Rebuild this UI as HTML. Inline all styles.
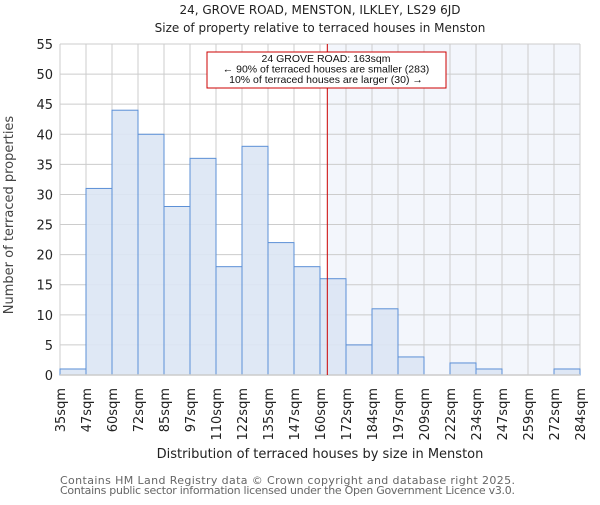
<!DOCTYPE html>
<html><head><meta charset="utf-8"><style>
body{margin:0;background:#fff}
svg{font-family:"DejaVu Sans","Liberation Sans",sans-serif}
</style></head><body>
<svg id="chart" width="600" height="500" xmlns="http://www.w3.org/2000/svg">
<text x="320" y="14" text-anchor="middle" font-size="12" fill="#222">24, GROVE ROAD, MENSTON, ILKLEY, LS29 6JD</text>
<text x="320" y="32" text-anchor="middle" font-size="12" fill="#222">Size of property relative to terraced houses in Menston</text>
<g id="plot"></g>
<text x="320" y="458" text-anchor="middle" font-size="13" fill="#222">Distribution of terraced houses by size in Menston</text>
<text transform="translate(13,215) rotate(-90)" text-anchor="middle" font-size="13" fill="#444">Number of terraced properties</text>
<text x="60" y="484" font-size="11" fill="#666" textLength="455">Contains HM Land Registry data © Crown copyright and database right 2025.</text>
<text x="60" y="494" font-size="11" fill="#666" textLength="455">Contains public sector information licensed under the Open Government Licence v3.0.</text>
</svg>
<script>
const binLabels=["35sqm","47sqm","60sqm","72sqm","85sqm","97sqm","110sqm","122sqm","135sqm","147sqm","160sqm","172sqm","184sqm","197sqm","209sqm","222sqm","234sqm","247sqm","259sqm","272sqm","284sqm"];
const counts=[1,31,44,40,28,36,18,38,22,18,16,5,11,3,0,2,1,0,0,1];
const yTicks=[0,5,10,15,20,25,30,35,40,45,50,55];
const subjectSize=163;
const minSize=35, maxSize=284;
const L=60,R=580,T=44,B=375,yMax=55;
const NS="http://www.w3.org/2000/svg";
const g=document.getElementById('plot');
const n=counts.length;
const xb=i=>L+(R-L)*i/n;
const y=v=>B-(B-T)*v/yMax;
const xs=s=>L+(R-L)*(s-minSize)/(maxSize-minSize);
function mk(tag,attrs,parent){const e=document.createElementNS(NS,tag);for(const k in attrs)e.setAttribute(k,attrs[k]);(parent||g).appendChild(e);return e;}
const bg=mk('rect',{x:L,y:T,width:R-L,height:B-T,fill:'#fff'});


const px=xs(subjectSize);
const sh=mk('rect',{x:px,y:T,width:R-px,height:B-T,fill:'#f3f6fc'});


yTicks.forEach(t=>{
 const l=mk('line',{x1:L,x2:R,y1:y(t),y2:y(t),stroke:'#ccc','stroke-width':1});
 
 
 const tx=mk('text',{x:L-7,y:y(t)+5,'text-anchor':'end','font-size':13,fill:'#222'});
 tx.textContent=t;
 
 
});
binLabels.forEach((lab,i)=>{
 const X=xb(i);
 const l=mk('line',{x1:X,x2:X,y1:T,y2:B,stroke:'#ccc','stroke-width':1});
 
 
 const tx=mk('text',{transform:`translate(${X+5},388) rotate(-90)`,'text-anchor':'end','font-size':13,fill:'#222'});
 tx.textContent=lab;
 
 
});
counts.forEach((c,i)=>{
 if(c<=0)return;
 const r=mk('rect',{x:xb(i),y:y(c),width:xb(i+1)-xb(i),height:B-y(c),fill:'#dbe5f4','fill-opacity':0.9,stroke:'#5b8fd6','stroke-width':1});
 
 
});
const ax=mk('line',{x1:L,x2:R,y1:B,y2:B,stroke:'#ccc','stroke-width':1.5});


const vl=mk('line',{x1:px,x2:px,y1:T,y2:B,stroke:'#c00','stroke-width':1});


const box=mk('rect',{x:207,y:52,width:239,height:36,fill:'#fff',stroke:'#c00','stroke-width':1});


["24 GROVE ROAD: 163sqm","← 90% of terraced houses are smaller (283)","10% of terraced houses are larger (30) →"].forEach((s,i)=>{
 const t=mk('text',{x:326,y:62+i*10.5,'text-anchor':'middle','font-size':10.5,fill:'#111','font-family':'"Liberation Sans",sans-serif'});
 t.textContent=s;
 
 
});
</script>
</body></html>
